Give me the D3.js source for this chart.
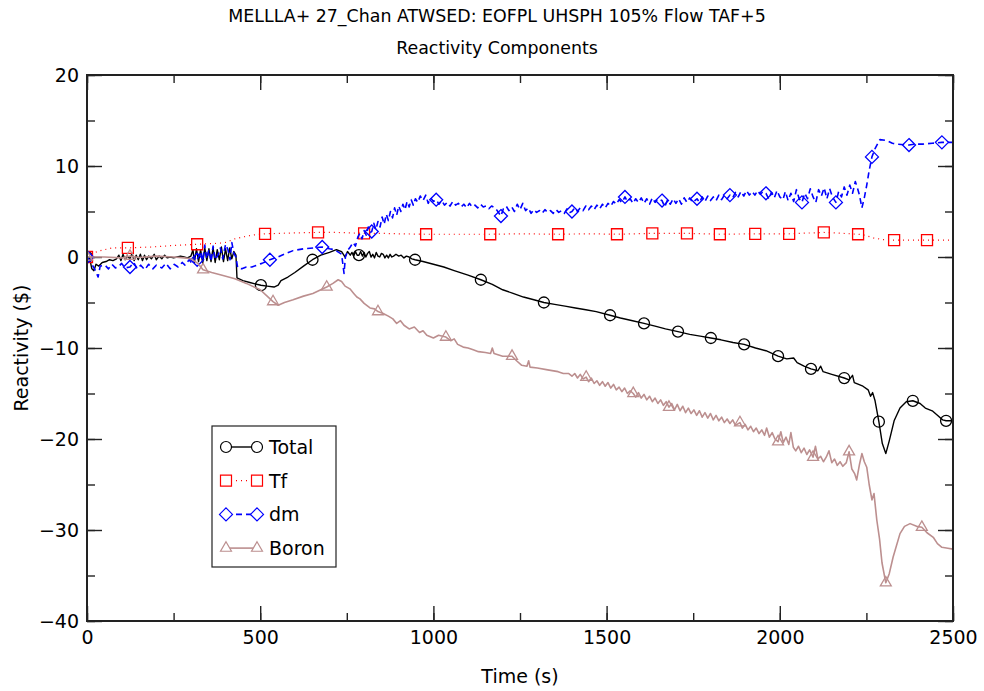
<!DOCTYPE html>
<html>
<head>
<meta charset="utf-8">
<script src="https://cdn.jsdelivr.net/npm/d3@7"></script>
<style>
body { margin: 0; background: #fff; }
text { font-family: "DejaVu Sans", sans-serif; fill: #000; }
</style>
</head>
<body>
<svg id="chart" width="984" height="691"></svg>
<script>
var titleLines = ["MELLLA+ 27_Chan ATWSED: EOFPL UHSPH 105% Flow TAF+5", "Reactivity Components"];
var xLabel = "Time (s)";
var yLabel = "Reactivity ($)";
var xTicks = [0, 500, 1000, 1500, 2000, 2500];
var yTicks = [-40, -30, -20, -10, 0, 10, 20];

// [time, value]
var totalData = [[0,0],[8,-0.2],[14,-1.3],[20,-1.5],[26,-0.8],[34,-1.0],[44,-0.6],[55,-0.5],[65,-0.3],[75,-0.4],[85,-0.2],[92,0.2],[98,-0.4],[104,0.3],[110,-0.3],[116,0.1],[124,-0.2],[130,0.4],[136,-0.4],[142,0.2],[148,-0.3],[154,0.3],[160,-0.4],[166,0.2],[172,-0.3],[178,0.1],[186,-0.2],[194,0.3],[200,-0.3],[208,0.1],[216,-0.2],[224,0.2],[232,-0.1],[240,0],[250,-0.1],[260,0],[270,0.1],[280,0],[290,-0.1],[300,0.1],[306,0.8],[310,-0.6],[316,0.9],[322,-0.5],[328,0.8],[334,-0.7],[340,1.0],[346,-0.4],[352,0.9],[358,-0.5],[364,1.0],[370,-0.6],[376,0.8],[382,-0.3],[388,1.1],[394,-0.5],[400,0.9],[406,-0.4],[412,1.0],[418,-0.2],[424,0.6],[430,0.2],[433,-2.3],[450,-2.6],[470,-2.8],[490,-3.0],[502,-3.1],[520,-3.2],[540,-3.3],[552,-3.1],[560,-2.6],[580,-2.2],[600,-1.7],[625,-1.0],[651,-0.3],[675,0.2],[700,0.5],[720,0.8],[735,0.6],[745,0.0],[752,0.6],[760,0.2],[765,0.5],[770,0.1],[775,0.6],[780,0.2],[785,0.2],[790,0.6],[795,0.1],[800,0.5],[805,0.0],[810,0.4],[815,0.6],[820,0.0],[825,0.3],[830,-0.1],[835,0.5],[840,0.1],[845,0.0],[850,0.4],[855,0.3],[860,-0.1],[865,0.2],[870,-0.1],[875,0.3],[880,0.0],[885,0.1],[892,0.3],[900,0.1],[907,0.2],[915,-0.1],[922,0.1],[930,0.0],[938,-0.2],[947,-0.3],[970,-0.5],[1000,-0.8],[1030,-1.1],[1060,-1.5],[1100,-2.0],[1137,-2.5],[1170,-3.0],[1200,-3.6],[1230,-4.0],[1260,-4.4],[1290,-4.7],[1319,-5.0],[1350,-5.2],[1380,-5.4],[1410,-5.6],[1440,-5.8],[1470,-6.0],[1510,-6.4],[1540,-6.7],[1575,-7.0],[1608,-7.3],[1640,-7.6],[1670,-7.9],[1706,-8.2],[1740,-8.5],[1770,-8.7],[1801,-8.9],[1830,-9.1],[1865,-9.4],[1897,-9.6],[1930,-10.0],[1960,-10.3],[1995,-10.9],[2020,-11.2],[2040,-11.1],[2050,-11.6],[2070,-12.0],[2090,-12.3],[2110,-12.5],[2118,-12.0],[2125,-12.6],[2150,-12.9],[2186,-13.3],[2200,-13.5],[2210,-13.0],[2215,-13.8],[2240,-14.2],[2255,-14.6],[2262,-15.3],[2268,-14.9],[2275,-15.8],[2286,-18.1],[2296,-20.5],[2306,-21.6],[2316,-20.2],[2330,-18.0],[2347,-16.6],[2365,-15.9],[2384,-15.8],[2405,-16.1],[2420,-16.6],[2440,-16.9],[2455,-17.4],[2470,-17.9],[2480,-18.0],[2500,-18.0]];
var totalMarks = [0, 502, 651, 785, 947, 1137, 1319, 1510, 1608, 1706, 1801, 1897, 1995, 2090, 2186, 2286, 2384, 2480];

var tfData = [[0,0],[15,0.3],[32,0.65],[50,0.8],[72,1.0],[118,1.0],[150,1.05],[188,1.1],[225,1.2],[263,1.3],[318,1.4],[350,1.45],[378,1.5],[400,1.6],[427,2.0],[450,2.2],[476,2.4],[514,2.55],[560,2.6],[600,2.65],[667,2.7],[720,2.7],[760,2.65],[800,2.6],[850,2.6],[900,2.55],[979,2.5],[1050,2.5],[1164,2.5],[1250,2.55],[1360,2.5],[1450,2.55],[1530,2.5],[1632,2.6],[1732,2.6],[1827,2.5],[1929,2.55],[2027,2.55],[2127,2.7],[2180,2.6],[2226,2.5],[2245,2.4],[2270,2.1],[2300,1.9],[2330,1.85],[2425,1.85],[2500,1.85]];
var tfMarks = [0, 118, 318, 514, 667, 800, 979, 1164, 1360, 1530, 1632, 1732, 1827, 1929, 2027, 2127, 2226, 2330, 2425];

var dmData = [[0,0],[10,-0.5],[23,-1.4],[32,-2.2],[38,-1.0],[52,-0.9],[62,-1.3],[72,-0.8],[82,-1.2],[90,-1.1],[100,-0.7],[110,-1.2],[124,-1.1],[135,-0.6],[145,-1.3],[155,-0.9],[167,-1.4],[178,-0.8],[190,-1.3],[200,-0.9],[216,-1.2],[228,-0.7],[240,-1.3],[252,-0.8],[263,-1.1],[275,-0.6],[283,-0.9],[295,-0.3],[305,-0.8],[312,0.0],[318,-0.3],[328,0.6],[334,-0.4],[340,1.3],[346,-0.2],[352,0.8],[358,-0.5],[364,1.2],[370,-0.3],[378,0.2],[385,1.0],[392,-0.2],[400,1.4],[407,0.8],[413,-0.3],[418,1.6],[424,0.4],[430,0.0],[435,-1.2],[447,-1.3],[460,-1.1],[476,-1.1],[490,-0.9],[505,-0.7],[528,-0.3],[551,0.0],[575,0.4],[595,0.7],[625,0.9],[655,1.0],[679,1.1],[700,0.9],[715,0.8],[735,0.3],[742,-1.8],[746,0.0],[754,0.8],[760,1.1],[768,1.6],[775,1.2],[782,2.2],[788,2.6],[794,2.0],[800,2.9],[806,2.4],[812,3.3],[818,2.7],[822,2.8],[828,3.7],[834,3.0],[840,3.9],[846,3.3],[852,4.4],[858,3.6],[864,4.7],[870,4.0],[876,5.0],[882,4.3],[888,5.4],[894,4.6],[900,5.6],[906,5.0],[912,5.8],[918,5.2],[924,6.1],[930,5.5],[936,6.3],[942,5.7],[948,6.4],[955,6.0],[962,6.7],[970,6.2],[978,6.8],[985,5.9],[992,6.5],[1000,6.1],[1008,6.3],[1016,5.8],[1024,6.2],[1032,5.7],[1040,6.0],[1048,5.6],[1056,6.1],[1064,5.7],[1072,5.9],[1080,5.5],[1088,5.8],[1096,5.4],[1104,5.9],[1112,5.5],[1120,5.7],[1128,5.4],[1136,5.8],[1144,5.5],[1152,5.6],[1160,5.3],[1168,5.6],[1178,5.4],[1186,5.0],[1195,4.5],[1202,5.3],[1210,5.6],[1218,5.1],[1226,5.5],[1234,5.0],[1242,5.8],[1250,5.2],[1258,5.9],[1266,5.1],[1274,5.4],[1282,4.8],[1290,5.2],[1298,4.9],[1306,5.1],[1314,4.8],[1322,5.2],[1330,4.9],[1338,5.1],[1346,4.8],[1354,5.2],[1362,4.9],[1370,5.1],[1378,4.8],[1386,5.3],[1394,4.9],[1400,5.0],[1408,5.4],[1416,5.0],[1424,5.4],[1432,5.1],[1440,5.6],[1448,5.2],[1456,5.6],[1464,5.2],[1472,5.7],[1480,5.3],[1488,5.8],[1496,5.4],[1504,5.9],[1512,5.6],[1520,6.1],[1528,5.8],[1536,6.3],[1544,6.0],[1553,6.6],[1560,6.1],[1568,6.4],[1576,5.9],[1584,6.4],[1592,6.0],[1600,6.5],[1608,5.9],[1616,6.4],[1624,5.8],[1632,6.5],[1640,6.0],[1648,6.4],[1660,6.2],[1668,5.5],[1676,6.3],[1684,5.8],[1692,6.4],[1700,5.9],[1708,6.4],[1716,5.8],[1724,6.5],[1732,6.0],[1740,6.5],[1748,6.0],[1761,6.4],[1768,6.0],[1776,6.6],[1784,6.1],[1792,6.7],[1800,6.2],[1808,6.6],[1816,6.2],[1824,6.8],[1832,6.3],[1840,6.8],[1848,6.4],[1856,6.8],[1864,6.5],[1872,7.1],[1880,6.6],[1888,7.2],[1896,6.7],[1904,7.3],[1912,6.8],[1920,7.2],[1928,6.8],[1936,7.3],[1944,6.9],[1952,7.2],[1960,7.0],[1968,6.4],[1976,7.1],[1984,6.5],[1992,7.3],[2000,6.6],[2009,6.3],[2016,7.2],[2024,6.2],[2032,7.0],[2040,6.1],[2048,7.4],[2056,6.4],[2064,6.0],[2072,7.0],[2080,6.4],[2088,7.5],[2096,6.6],[2104,6.0],[2112,7.4],[2120,6.7],[2128,7.6],[2136,6.4],[2144,7.5],[2152,6.6],[2162,6.0],[2170,7.2],[2178,6.6],[2186,7.7],[2194,6.8],[2202,7.9],[2210,7.0],[2218,8.3],[2224,7.6],[2230,6.8],[2237,5.4],[2244,6.5],[2251,7.9],[2258,9.5],[2266,11.0],[2275,11.9],[2289,12.9],[2309,12.8],[2325,12.5],[2338,12.4],[2373,12.3],[2390,12.4],[2413,12.4],[2440,12.5],[2468,12.6],[2500,12.6]];
var dmMarks = [0, 124, 318, 528, 679, 822, 1008, 1195, 1400, 1553, 1660, 1761, 1856, 1960, 2064, 2162, 2266, 2373, 2468];

var boronData = [[0,0],[50,0],[100,-0.1],[124,0.1],[150,-0.05],[200,0.1],[250,0.0],[280,-0.1],[300,-0.2],[320,-0.7],[335,-1.4],[360,-1.7],[390,-2.0],[427,-2.4],[460,-2.9],[500,-3.6],[520,-4.3],[537,-4.9],[552,-5.3],[570,-5.0],[595,-4.7],[625,-4.3],[652,-4.0],[675,-3.6],[692,-3.3],[710,-2.9],[725,-2.5],[735,-2.7],[745,-3.2],[759,-3.5],[770,-4.0],[779,-4.4],[788,-4.6],[800,-5.1],[817,-5.6],[830,-5.7],[840,-6.0],[855,-6.2],[870,-6.5],[883,-6.8],[894,-7.3],[905,-7.0],[915,-7.5],[930,-7.9],[945,-7.7],[960,-8.3],[970,-8.1],[981,-8.6],[1000,-8.9],[1015,-8.6],[1036,-8.8],[1050,-9.2],[1060,-9.0],[1070,-9.6],[1086,-9.9],[1100,-10.0],[1115,-10.2],[1130,-10.4],[1150,-10.5],[1165,-10.6],[1170,-10.0],[1175,-10.6],[1200,-10.9],[1227,-10.9],[1240,-11.4],[1255,-11.9],[1270,-12.0],[1275,-11.4],[1279,-12.1],[1300,-12.2],[1330,-12.4],[1360,-12.6],[1375,-12.8],[1390,-12.8],[1400,-13.1],[1408,-12.8],[1416,-13.3],[1424,-12.9],[1432,-13.4],[1441,-13.2],[1448,-13.7],[1456,-13.3],[1464,-13.9],[1472,-13.6],[1480,-14.1],[1488,-13.7],[1496,-14.2],[1504,-13.8],[1512,-14.4],[1520,-14.0],[1528,-14.6],[1536,-14.3],[1544,-14.8],[1552,-14.4],[1560,-15.0],[1568,-14.7],[1577,-15.0],[1584,-15.4],[1592,-14.9],[1600,-15.5],[1608,-15.1],[1616,-15.7],[1624,-15.3],[1632,-15.9],[1640,-15.5],[1648,-16.1],[1656,-15.7],[1664,-16.3],[1672,-15.9],[1680,-16.5],[1688,-16.1],[1696,-16.8],[1704,-16.2],[1712,-16.9],[1720,-16.4],[1728,-17.1],[1736,-16.6],[1744,-17.2],[1752,-16.8],[1760,-17.4],[1768,-16.9],[1776,-17.6],[1784,-17.1],[1792,-17.7],[1800,-17.2],[1808,-17.9],[1816,-17.4],[1824,-18.0],[1832,-17.6],[1840,-18.2],[1848,-17.8],[1856,-18.3],[1864,-17.9],[1872,-18.5],[1885,-18.2],[1892,-18.8],[1900,-18.4],[1908,-19.0],[1916,-18.6],[1924,-19.2],[1932,-18.8],[1940,-19.4],[1948,-19.0],[1956,-19.6],[1962,-18.8],[1970,-19.8],[1978,-19.3],[1986,-20.0],[1995,-20.3],[2003,-19.2],[2010,-20.4],[2018,-19.8],[2026,-20.6],[2032,-19.3],[2039,-20.9],[2046,-21.3],[2054,-20.8],[2062,-21.5],[2070,-21.0],[2078,-21.7],[2086,-21.2],[2096,-22.0],[2103,-20.8],[2110,-22.2],[2118,-21.9],[2126,-22.5],[2134,-22.0],[2142,-21.3],[2150,-22.6],[2158,-22.2],[2166,-22.9],[2174,-22.5],[2182,-23.0],[2192,-22.6],[2200,-21.4],[2208,-23.3],[2216,-23.8],[2222,-24.5],[2230,-22.8],[2237,-21.6],[2244,-22.5],[2251,-23.1],[2258,-25.0],[2266,-26.7],[2272,-26.0],[2280,-28.9],[2288,-31.0],[2295,-33.6],[2306,-35.8],[2316,-34.8],[2327,-33.0],[2347,-30.4],[2360,-29.6],[2376,-29.3],[2395,-29.6],[2410,-29.7],[2425,-30.3],[2443,-30.8],[2455,-31.5],[2468,-31.9],[2485,-32.0],[2500,-32.1]];
var boronMarks = [0, 124, 335, 537, 692, 840, 1036, 1227, 1441, 1577, 1680, 1885, 1995, 2096, 2200, 2306, 2410];

var seriesNames = ["Total", "Tf", "dm", "Boron"];
var seriesColors = ["#000000", "#ff0000", "#0000ff", "#bc8f8f"];

var series = [
    {name: seriesNames[0], data: totalData, marks: totalMarks, color: seriesColors[0], dash: null, width: 1.4, symbol: "circle"},
    {name: seriesNames[1], data: tfData, marks: tfMarks, color: seriesColors[1], dash: "1,4", width: 1.2, symbol: "square"},
    {name: seriesNames[2], data: dmData, marks: dmMarks, color: seriesColors[2], dash: "6,4", width: 1.6, symbol: "diamond"},
    {name: seriesNames[3], data: boronData, marks: boronMarks, color: seriesColors[3], dash: null, width: 1.6, symbol: "triangle"}
];

// note: "top" is taken by window.top, so plot edges get their own names
var plotLeft = 87, plotRight = 953, plotTop = 75, plotBottom = 621;

var svg = d3.select("#chart");

var x = d3.scaleLinear().domain([0, 2500]).range([plotLeft, plotRight]);
var y = d3.scaleLinear().domain([-40, 20]).range([plotBottom, plotTop]);

// titles
svg.selectAll("text.title")
    .data(titleLines)
    .enter().append("text")
    .attr("class", "title")
    .attr("x", 497)
    .attr("y", function(d, i) { return 22 + i*32 })
    .attr("text-anchor", "middle")
    .style("font-size", "17.4px")
    .text(function(d) { return d });

svg.append("defs").append("clipPath").attr("id", "clip")
    .append("rect")
    .attr("x", plotLeft).attr("y", plotTop)
    .attr("width", plotRight - plotLeft).attr("height", plotBottom - plotTop);

function styleAxis(g, labels) {
    g.select(".domain").remove();
    g.selectAll(".tick line").attr("stroke", "#222").attr("stroke-width", 1.4);
    if(labels) {
        g.selectAll(".tick text").style("font-size", "19px").style("font-family", "DejaVu Sans, sans-serif").attr("fill", "#000");
    } else {
        g.selectAll(".tick text").remove();
    }
}

var xMinor = d3.range(0, 2501, 250);
var yMinor = d3.range(-40, 21, 5);

// bottom
svg.append("g").attr("transform", "translate(0," + plotBottom + ")")
    .call(d3.axisBottom(x).tickValues(xMinor).tickSize(-8).tickSizeOuter(0))
    .call(styleAxis, false);
svg.append("g").attr("transform", "translate(0," + plotBottom + ")")
    .call(d3.axisBottom(x).tickValues(xTicks).tickSize(-15).tickSizeOuter(0).tickPadding(10).tickFormat(d3.format("d")))
    .call(styleAxis, true);
// top
svg.append("g").attr("transform", "translate(0," + plotTop + ")")
    .call(d3.axisTop(x).tickValues(xMinor).tickSize(-8).tickSizeOuter(0))
    .call(styleAxis, false);
svg.append("g").attr("transform", "translate(0," + plotTop + ")")
    .call(d3.axisTop(x).tickValues(xTicks).tickSize(-15).tickSizeOuter(0))
    .call(styleAxis, false);
// left
svg.append("g").attr("transform", "translate(" + plotLeft + ",0)")
    .call(d3.axisLeft(y).tickValues(yMinor).tickSize(-8).tickSizeOuter(0))
    .call(styleAxis, false);
svg.append("g").attr("transform", "translate(" + plotLeft + ",0)")
    .call(d3.axisLeft(y).tickValues(yTicks).tickSize(-15).tickSizeOuter(0).tickPadding(8)
        .tickFormat(function(d) { return d < 0 ? "\u2212" + Math.abs(d) : d }))
    .call(styleAxis, true);
// right
svg.append("g").attr("transform", "translate(" + plotRight + ",0)")
    .call(d3.axisRight(y).tickValues(yMinor).tickSize(-8).tickSizeOuter(0))
    .call(styleAxis, false);
svg.append("g").attr("transform", "translate(" + plotRight + ",0)")
    .call(d3.axisRight(y).tickValues(yTicks).tickSize(-15).tickSizeOuter(0))
    .call(styleAxis, false);

svg.append("text")
    .attr("x", (plotLeft + plotRight)/2)
    .attr("y", 683)
    .attr("text-anchor", "middle")
    .style("font-size", "19px")
    .text(xLabel);

svg.append("text")
    .attr("transform", "translate(28," + ((plotTop + plotBottom)/2) + ") rotate(-90)")
    .attr("text-anchor", "middle")
    .style("font-size", "19px")
    .text(yLabel);

function symbolPath(type) {
    if(type === "circle") return d3.symbol().type(d3.symbolCircle).size(Math.PI*5.5*5.5)();
    if(type === "square") return d3.symbol().type(d3.symbolSquare).size(11*11)();
    if(type === "diamond") return "M0,-6.5L6.5,0L0,6.5L-6.5,0Z";
    return d3.symbol().type(d3.symbolTriangle).size(52)();
}

var line = d3.line()
    .x(function(d) { return x(d[0]) })
    .y(function(d) { return y(d[1]) });

var plotArea = svg.append("g").attr("clip-path", "url(#clip)");

series.forEach(function(s) {
    var g = plotArea.append("g");
    g.append("path")
        .attr("d", line(s.data))
        .attr("fill", "none")
        .attr("stroke", s.color)
        .attr("stroke-width", s.width)
        .attr("stroke-dasharray", s.dash)
        .attr("stroke-linejoin", "round");

    var pts = s.marks.map(function(t) {
        return s.data.find(function(d) { return d[0] === t }) || s.data[d3.bisector(function(d) { return d[0] }).left(s.data, t)];
    });
    g.selectAll("path.mark")
        .data(pts)
        .enter().append("path")
        .attr("class", "mark")
        .attr("d", symbolPath(s.symbol))
        .attr("transform", function(d) { return "translate(" + x(d[0]) + "," + y(d[1]) + ")" })
        .attr("fill", "none")
        .attr("stroke", s.color)
        .attr("stroke-width", 1.3);
});

// frame
svg.append("rect")
    .attr("x", plotLeft).attr("y", plotTop)
    .attr("width", plotRight - plotLeft).attr("height", plotBottom - plotTop)
    .attr("fill", "none")
    .attr("stroke", "#222")
    .attr("stroke-width", 2);

// legend
var legend = svg.append("g").attr("transform", "translate(212,426)");
legend.append("rect")
    .attr("width", 124).attr("height", 141)
    .attr("fill", "#fff").attr("stroke", "#222").attr("stroke-width", 1.2);

var items = legend.selectAll("g.item")
    .data(series)
    .enter().append("g")
    .attr("class", "item")
    .attr("transform", function(d, i) { return "translate(0," + (21 + i*33.7) + ")" });

items.append("line")
    .attr("x1", 14).attr("x2", 45)
    .attr("stroke", function(d) { return d.color })
    .attr("stroke-width", function(d) { return d.width })
    .attr("stroke-dasharray", function(d) { return d.dash });
items.selectAll("path")
    .data(function(d) { return [[14, d], [45, d]] })
    .enter().append("path")
    .attr("d", function(d) { return symbolPath(d[1].symbol) })
    .attr("transform", function(d) { return "translate(" + d[0] + ",0)" })
    .attr("fill", "#fff")
    .attr("stroke", function(d) { return d[1].color })
    .attr("stroke-width", 1.2);
items.append("text")
    .attr("x", 57)
    .attr("y", 7)
    .style("font-size", "19px")
    .text(function(d) { return d.name });
</script>
</body>
</html>
